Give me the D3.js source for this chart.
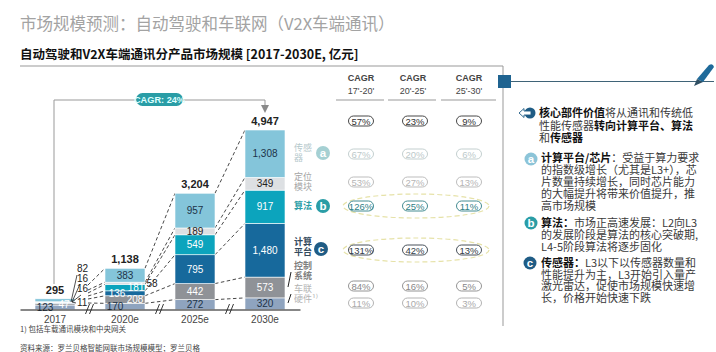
<!DOCTYPE html>
<html>
<head>
<meta charset="utf-8">
<script src="https://cdn.jsdelivr.net/npm/d3@7"></script>
<style>
  html, body { margin: 0; padding: 0; background: #fff; }
  svg { display: block; font-family: "Noto Sans CJK SC", "Liberation Sans", sans-serif; }
  .num { font-family: "Liberation Sans", Arial, sans-serif; }
</style>
</head>
<body>
<div id="chart"></div>
<script>
// Chart values
const years = ['2017', '2020e', '2025e', '2030e'];
const totals = [295, 1138, 3204, 4947];
const hardware = [123, 170, 272, 320];
const control = [47, 208, 442, 573];
const compute = [11, 136, 795, 1480];
const algorithm = [16, 181, 549, 917];
const positioning = [16, 58, 189, 349];
const sensor = [82, 383, 957, 1308];

const seriesKeys = ['hardware', 'control', 'compute', 'algorithm', 'positioning', 'sensor'];
const seriesColors = ['#8fa4bf', '#8f9297', '#17699c', '#0ca4bd', '#dde0e3', '#84c5da'];
const labelColors = ['#1d3348', '#fff', '#fff', '#fff', '#222', '#1d3348'];

const cagrHeaders = ["17'-20'", "20'-25'", "25'-30'"];
const cagrRows = [
  ['57%', '23%', '9%'],
  ['67%', '20%', '6%'],
  ['53%', '27%', '13%'],
  ['126%', '25%', '11%'],
  ['131%', '42%', '13%'],
  ['84%', '16%', '5%'],
  ['11%', '10%', '3%']
];

const panelHead = [
  [['核心部件价值', true], ['将从通讯和传统低', false]],
  [['性能传感器', false], ['转向计算平台、算法', true]],
  [['和', false], ['传感器', true]]
];
const panelA = [
  [['计算平台/芯片', true], ['：受益于算力要求', false]],
  [['的指数级增长（尤其是L3+），芯', false]],
  [['片数量持续增长，同时芯片能力', false]],
  [['的大幅提升将带来价值提升，推', false]],
  [['高市场规模', false]]
];
const panelB = [
  [['算法：', true], ['市场正高速发展：L2向L3', false]],
  [['的发展阶段是算法的核心突破期,', false]],
  [['L4-5阶段算法将逐步固化', false]]
];
const panelC = [
  [['传感器：', true], ['L3以下以传感器数量和', false]],
  [['性能提升为主，L3开始引入量产', false]],
  [['激光雷达，促使市场规模快速增', false]],
  [['长，价格开始快速下跌', false]]
];

const table = years.map((year, i) => ({
  year,
  hardware: hardware[i],
  control: control[i],
  compute: compute[i],
  algorithm: algorithm[i],
  positioning: positioning[i],
  sensor: sensor[i]
}));

const width = 716;
const height = 352;

const svg = d3.select('#chart').append('svg')
  .attr('width', width)
  .attr('height', height);

// Header
svg.append('text').attr('x', 20).attr('y', 30)
  .attr('font-size', 16.5).attr('fill', '#a3a3a3')
  .text('市场规模预测：自动驾驶和车联网（V2X车端通讯）');
svg.append('text').attr('x', 20).attr('y', 59)
  .attr('font-size', 12.5).attr('font-weight', 700).attr('fill', '#111')
  .text('自动驾驶和V2X车端通讯分产品市场规模 [2017-2030E, 亿元]');
svg.append('line').attr('x1', 20).attr('x2', 503).attr('y1', 66).attr('y2', 66)
  .attr('stroke', '#999');

// Scales
const xScale = d3.scaleBand()
  .domain(years)
  .range([20, 300])
  .paddingInner(3 / 7)
  .paddingOuter(3 / 14);

const yScale = d3.scaleLinear()
  .domain([0, 4947])
  .range([309.5, 130]);

const stacked = d3.stack().keys(seriesKeys)(table);
const fmt = d3.format(',');

// CAGR arrow across the bars
const cagrLine = d3.line();
svg.append('path')
  .attr('d', cagrLine([[54, 284], [54, 100], [265, 100], [265, 106]]))
  .attr('fill', 'none').attr('stroke', '#999').attr('stroke-width', 1);
svg.append('path').attr('d', 'M261,105 L269,105 L265,113 Z').attr('fill', '#8a8a8a');
svg.append('rect').attr('x', 136).attr('y', 93).attr('width', 47).attr('height', 13).attr('rx', 6.5)
  .attr('fill', '#2a9da6');
svg.append('text').attr('class', 'num').attr('x', 159.5).attr('y', 103)
  .attr('text-anchor', 'middle').attr('font-size', 9.2).attr('font-weight', 700).attr('fill', '#dff')
  .text('CAGR: 24%');

// Dashed connectors between neighbouring bars
const connectors = svg.append('g')
  .attr('fill', 'none').attr('stroke', '#333').attr('stroke-width', 0.9).attr('stroke-dasharray', '3.5,2.5');
const fanStart = [303, 299, 296, 293, 290, 285]; // 2017 labels fan out from here
stacked.forEach((layer, s) => {
  connectors.append('line')
    .attr('x1', 88).attr('y1', fanStart[s])
    .attr('x2', xScale(years[1])).attr('y2', yScale(layer[1][1]));
  for (let i = 1; i < years.length - 1; i++) {
    connectors.append('line')
      .attr('x1', xScale(years[i]) + xScale.bandwidth()).attr('y1', yScale(layer[i][1]))
      .attr('x2', xScale(years[i + 1])).attr('y2', yScale(layer[i + 1][1]));
  }
});

// Stacked bars
const layers = svg.append('g').selectAll('g')
  .data(stacked)
  .enter()
  .append('g')
  .attr('fill', (d, i) => seriesColors[i]);

layers.selectAll('rect')
  .data(d => d)
  .enter()
  .append('rect')
  .attr('x', d => xScale(d.data.year))
  .attr('y', d => yScale(d[1]))
  .attr('width', xScale.bandwidth())
  .attr('height', d => yScale(d[0]) - yScale(d[1]))
  .attr('stroke', '#fff')
  .attr('stroke-width', 0.6);

// Segment labels, thin ones in 2017 and 2020 sit left/right of centre
const labelDodge = {
  '2017': { hardware: -10, control: 9 },
  '2020e': { hardware: -10, control: 10, compute: -8, algorithm: 11, positioning: 27 }
};
const hiddenLabels = { '2017': ['compute', 'algorithm', 'positioning', 'sensor'] };

stacked.forEach((layer, s) => {
  layer.forEach(d => {
    const key = layer.key;
    if ((hiddenLabels[d.data.year] || []).includes(key)) return;
    const dodge = (labelDodge[d.data.year] || {})[key] || 0;
    const outside = d.data.year === '2020e' && key === 'positioning';
    svg.append('text')
      .attr('class', 'num')
      .attr('x', xScale(d.data.year) + xScale.bandwidth() / 2 + dodge)
      .attr('y', (yScale(d[0]) + yScale(d[1])) / 2 + 3.5)
      .attr('text-anchor', 'middle')
      .attr('font-size', 10)
      .attr('fill', outside ? '#222' : labelColors[s])
      .text(fmt(d.data[key]));
  });
});

// 2017 values sit outside the bar with leader lines
const outsideLabels = [[sensor[0], 272], [positioning[0], 282], [algorithm[0], 292], [compute[0], 306]];
outsideLabels.forEach(([value, y]) => {
  svg.append('text').attr('class', 'num').attr('x', 77).attr('y', y)
    .attr('font-size', 10).attr('fill', '#222').text(value);
});
svg.append('path')
  .attr('d', 'M77,275 L71,302 M80,284 L72,302 M81,295 L72,302 M76,303 L72,302')
  .attr('fill', 'none').attr('stroke', '#222').attr('stroke-width', 0.8);

// Totals
svg.append('g').selectAll('text')
  .data(years)
  .enter()
  .append('text')
  .attr('class', 'num')
  .attr('x', d => xScale(d) + xScale.bandwidth() / 2)
  .attr('y', (d, i) => yScale(totals[i]) - 5)
  .attr('text-anchor', 'middle')
  .attr('font-size', 11)
  .attr('font-weight', 700)
  .attr('fill', '#222')
  .text((d, i) => fmt(totals[i]));

// X axis
const xAxis = d3.axisBottom(xScale).tickSize(0).tickPadding(6);
const axisGroup = svg.append('g')
  .attr('transform', 'translate(0,309.5)')
  .call(xAxis);
axisGroup.select('.domain').attr('stroke', '#111');
axisGroup.selectAll('text')
  .attr('class', 'num')
  .attr('font-size', 10)
  .attr('fill', '#444');

// Axis breaks
[89.5, 159.5, 229.5].forEach(x => {
  [-2, 2].forEach(dx => {
    svg.append('line')
      .attr('x1', x + dx - 2).attr('y1', 314).attr('x2', x + dx + 2).attr('y2', 304)
      .attr('stroke', '#222').attr('stroke-width', 0.9);
  });
});

// Series names right of the last bar
const sideLabels = [
  { lines: ['传感', '器'], y: 151, color: '#b5c9cc', weight: 400 },
  { lines: ['定位', '模块'], y: 180, color: '#a5a5a5', weight: 400 },
  { lines: ['算法'], y: 209, color: '#2a9da6', weight: 700 },
  { lines: ['计算', '平台'], y: 245, color: '#33495c', weight: 700 },
  { lines: ['控制', '系统'], y: 269, color: '#808080', weight: 700 },
  { lines: ['车联', '硬件¹⁾'], y: 292, color: '#b3b3b3', weight: 400 }
];
sideLabels.forEach(d => {
  d.lines.forEach((line, i) => {
    svg.append('text').attr('x', 294).attr('y', d.y + i * 10)
      .attr('font-size', 9).attr('font-weight', d.weight).attr('fill', d.color).text(line);
  });
});
svg.append('path').attr('d', 'M291,272 L288,287 M291,294 L288,303')
  .attr('stroke', '#222').attr('stroke-width', 1);

function badge(x, y, letter, color, r) {
  svg.append('circle').attr('cx', x).attr('cy', y).attr('r', r).attr('fill', color);
  svg.append('text').attr('class', 'num').attr('x', x).attr('y', y + 3.8)
    .attr('text-anchor', 'middle').attr('font-size', 11.5).attr('font-weight', 700).attr('fill', '#fff')
    .text(letter);
}
badge(323, 153, 'a', '#a5d0d3', 7);
badge(323, 206, 'b', '#2a9da6', 7);
badge(321, 249, 'c', '#1f5c85', 7);

// CAGR table
const colX = d3.scalePoint().domain(cagrHeaders).range([361, 469]);
const rowY = [121, 154, 182, 206, 250, 286, 303];
const rowColors = ['#333', '#bcc9ca', '#b5b5b5', '#2f7f86', '#333d47', '#888', '#aaa'];

[[361, 336, 384], [413, 388, 436], [469, 441, 496]].forEach(([cx, x1, x2], i) => {
  svg.append('text').attr('class', 'num').attr('x', cx).attr('y', 81)
    .attr('text-anchor', 'middle').attr('font-size', 9).attr('font-weight', 700).attr('fill', '#444').text('CAGR');
  svg.append('text').attr('class', 'num').attr('x', cx).attr('y', 94)
    .attr('text-anchor', 'middle').attr('font-size', 9).attr('fill', '#444').text(cagrHeaders[i]);
  svg.append('line').attr('x1', x1).attr('x2', x2).attr('y1', 100).attr('y2', 100)
    .attr('stroke', '#999');
});

[206, 250].forEach(y => {
  svg.append('ellipse').attr('cx', 416).attr('cy', y).attr('rx', 73).attr('ry', 12)
    .attr('fill', 'none').attr('stroke', '#e6e2a8').attr('stroke-width', 1.2).attr('stroke-dasharray', '5,3');
});

cagrRows.forEach((row, r) => {
  row.forEach((value, c) => {
    const cx = colX(cagrHeaders[c]);
    svg.append('rect').attr('x', cx - 12.5).attr('y', rowY[r] - 5).attr('width', 25).attr('height', 10)
      .attr('rx', 5).attr('fill', '#fff').attr('stroke', rowColors[r]).attr('stroke-width', 0.9);
    svg.append('text').attr('class', 'num').attr('x', cx).attr('y', rowY[r] + 3.5)
      .attr('text-anchor', 'middle').attr('font-size', 9.5).attr('fill', rowColors[r]).text(value);
  });
});

// Right panel frame
svg.append('line').attr('x1', 503).attr('x2', 503).attr('y1', 66).attr('y2', 326)
  .attr('stroke', '#999');
svg.append('line').attr('x1', 511).attr('x2', 714).attr('y1', 81.5).attr('y2', 81.5)
  .attr('stroke', '#3f6377');
svg.append('rect').attr('x', 498).attr('y', 75).attr('width', 13).attr('height', 13).attr('fill', '#1f6390');

// Pen icon
svg.append('path').attr('d', 'M697,79 L709,65 Q713,63 714,67 L703,82 Z').attr('fill', '#1f6a9a');
svg.append('path').attr('d', 'M697,79 L703,82 L694,86 Z').attr('fill', '#2f4f63');

// Arrow icon in front of the panel heading
svg.append('circle').attr('cx', 530).attr('cy', 113).attr('r', 5.5).attr('fill', '#1f5c85');
svg.append('path').attr('d', 'M519,113 L524,108.5 L524,111 L531,111 L531,115 L524,115 L524,117.5 Z')
  .attr('fill', '#fff').attr('stroke', '#1f5c85').attr('stroke-width', 0.9);

// Panel text, bold and normal runs on one line
function panelLines(lines, x, ys) {
  lines.forEach((runs, i) => {
    const text = svg.append('text').attr('x', x).attr('y', ys[i])
      .attr('font-size', 11).attr('fill', '#3a3a3a');
    runs.forEach(([str, bold]) => {
      text.append('tspan')
        .attr('font-weight', bold ? 700 : 400)
        .attr('fill', bold ? '#111' : '#3a3a3a')
        .text(str);
    });
  });
}
panelLines(panelHead, 539, [117, 130, 142]);
panelLines(panelA, 541, [162, 174, 186, 198, 210]);
panelLines(panelB, 541, [227, 239, 251]);
panelLines(panelC, 541, [267, 279, 290, 302]);
badge(531, 159, 'a', '#8cc4d8', 6.5);
badge(531, 223, 'b', '#2a9da6', 6.5);
badge(530, 263, 'c', '#1f5c85', 6.5);

// Footnotes
svg.append('text').attr('x', 20).attr('y', 332)
  .attr('font-size', 7.5).attr('fill', '#444').text('1) 包括车载通讯模块和中央网关');
svg.append('text').attr('x', 20).attr('y', 351)
  .attr('font-size', 7.5).attr('fill', '#444').text('资料来源：罗兰贝格智能网联市场规模模型；罗兰贝格');
</script>
</body>
</html>
